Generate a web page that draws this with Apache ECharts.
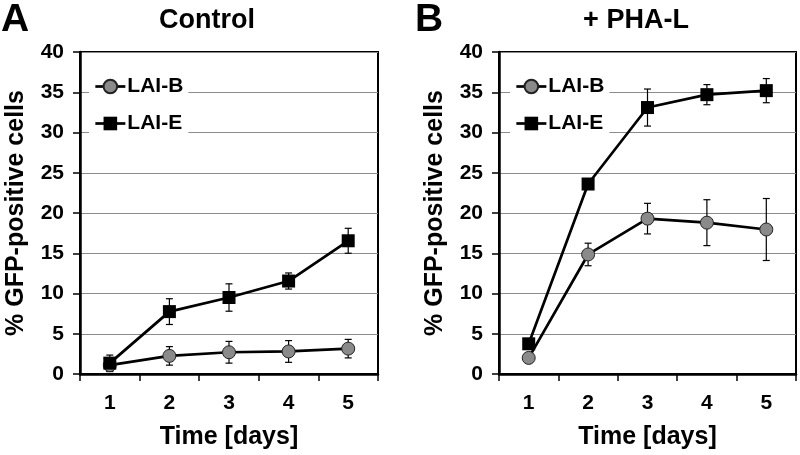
<!DOCTYPE html>
<html>
<head>
<meta charset="utf-8">
<script src="https://cdn.jsdelivr.net/npm/echarts@6/dist/echarts.min.js"></script>
<style>html,body{margin:0;padding:0;background:#fff}#c{width:800px;height:455px}</style>
</head>
<body>
<div id="c"></div>
<script>
var days = ['1', '2', '3', '4', '5'];
var yTicks = [0, 5, 10, 15, 20, 25, 30, 35, 40];
// Panel A: Control
var ctrlB = [1.1, 2.25, 2.7, 2.8, 3.15];
var ctrlBErr = [0.8, 1.15, 1.35, 1.35, 1.15];
var ctrlE = [1.35, 7.75, 9.5, 11.55, 16.55];
var ctrlEErr = [1.0, 1.6, 1.7, 1.0, 1.55];
// Panel B: + PHA-L
var phaB = [2.0, 14.85, 19.3, 18.8, 17.95];
var phaBErr = [0.5, 1.4, 1.9, 2.85, 3.85];
var phaE = [3.75, 23.6, 33.1, 34.7, 35.2];
var phaEErr = [0.6, 0.5, 2.3, 1.25, 1.5];

var FONT = 'Liberation Sans, Arial, sans-serif';

function errData(mean, err) {
  return mean.map(function (m, i) { return [i, m - err[i], m + err[i]]; });
}
function errSeries(mean, err, idx) {
  return {
    type: 'custom',
    xAxisIndex: idx, yAxisIndex: idx,
    z: 1,
    silent: true,
    encode: { x: 0, y: [1, 2] },
    data: errData(mean, err),
    renderItem: function (params, api) {
      var lo = api.coord([api.value(0), api.value(1)]);
      var hi = api.coord([api.value(0), api.value(2)]);
      var w = 3.5;
      var st = { stroke: '#000', lineWidth: 1.2 };
      return {
        type: 'group',
        children: [
          { type: 'line', shape: { x1: hi[0], y1: hi[1], x2: lo[0], y2: lo[1] }, style: st },
          { type: 'line', shape: { x1: hi[0] - w, y1: hi[1], x2: hi[0] + w, y2: hi[1] }, style: st },
          { type: 'line', shape: { x1: lo[0] - w, y1: lo[1], x2: lo[0] + w, y2: lo[1] }, style: st }
        ]
      };
    }
  };
}
function lineSeries(name, data, idx, isE) {
  return {
    name: name, type: 'line', xAxisIndex: idx, yAxisIndex: idx,
    data: data, z: isE ? 4 : 3,
    symbol: isE ? 'rect' : 'circle',
    symbolSize: 13,
    showAllSymbol: true,
    lineStyle: { color: '#000', width: 2.7 },
    itemStyle: isE ? { color: '#000', borderColor: '#000', borderWidth: 0 }
                   : { color: '#8a8a8a', borderColor: '#222', borderWidth: 1 },
    emphasis: { disabled: true },
    animation: false
  };
}
function xAxis(idx) {
  return {
    type: 'category', gridIndex: idx, data: days,
    name: 'Time [days]', nameLocation: 'middle', nameGap: 51,
    nameTextStyle: { fontFamily: FONT, fontWeight: 'bold', fontSize: 25, color: '#000' },
    axisLine: { lineStyle: { color: '#000', width: 2.5 } },
    axisTick: { show: true, length: 7, lineStyle: { color: '#000', width: 1.5 } },
    axisLabel: { fontFamily: FONT, fontWeight: 'bold', fontSize: 21, color: '#000', margin: 19 },
    splitLine: { show: false }
  };
}
function yAxis(idx) {
  return {
    type: 'value', gridIndex: idx, min: yTicks[0], max: yTicks[yTicks.length - 1], interval: 5,
    name: '% GFP-positive cells', nameLocation: 'middle', nameGap: 51, nameRotate: 90,
    nameTextStyle: { fontFamily: FONT, fontWeight: 'bold', fontSize: 25, color: '#000' },
    axisLine: { show: true, lineStyle: { color: '#000', width: 2.5 } },
    axisTick: { show: true, length: 7, lineStyle: { color: '#000', width: 1.5 } },
    axisLabel: { fontFamily: FONT, fontWeight: 'bold', fontSize: 21, color: '#000', margin: 16 },
    splitLine: { show: true, lineStyle: { color: '#8c8c8c', width: 1.2 } }
  };
}
function legend(left) {
  return {
    data: ['LAI-B', 'LAI-E'],
    orient: 'vertical', left: left, top: 71,
    padding: [5, 5, 5, 5],
    backgroundColor: '#fff',
    itemWidth: 30, itemHeight: 17, itemGap: 16,
    lineStyle: { width: 2.7, color: '#000' },
    textStyle: { fontFamily: FONT, fontWeight: 'bold', fontSize: 21, color: '#000', padding: [0, 0, 0, -3] },
    selectedMode: false
  };
}
function title(text, left, top, size, center) {
  return {
    text: text, left: left, top: top, padding: 0,
    textAlign: center ? 'center' : 'left',
    textStyle: { fontFamily: FONT, fontWeight: 'bold', fontSize: size, color: '#000' }
  };
}

var chart = echarts.init(document.getElementById('c'), null, { renderer: 'canvas' });
chart.setOption({
  animation: false,
  backgroundColor: '#fff',
  title: [
    title('A', 1, 1, 39, false),
    title('Control', 207, 7, 27, true),
    title('B', 415, 1, 39, false),
    title('+ PHA-L', 636, 7, 27, true)
  ],
  legend: [legend(89), legend(510)],
  grid: [
    { left: 80, right: 422, top: 52, bottom: 81, show: true, borderColor: '#000', borderWidth: 2, backgroundColor: 'transparent' },
    { left: 499, right: 4, top: 52, bottom: 81, show: true, borderColor: '#000', borderWidth: 2, backgroundColor: 'transparent' }
  ],
  xAxis: [xAxis(0), xAxis(1)],
  yAxis: [yAxis(0), yAxis(1)],
  series: [
    errSeries(ctrlB, ctrlBErr, 0),
    errSeries(ctrlE, ctrlEErr, 0),
    lineSeries('LAI-B', ctrlB, 0, false),
    lineSeries('LAI-E', ctrlE, 0, true),
    errSeries(phaB, phaBErr, 1),
    errSeries(phaE, phaEErr, 1),
    lineSeries('LAI-B', phaB, 1, false),
    lineSeries('LAI-E', phaE, 1, true)
  ]
});
</script>
</body>
</html>
